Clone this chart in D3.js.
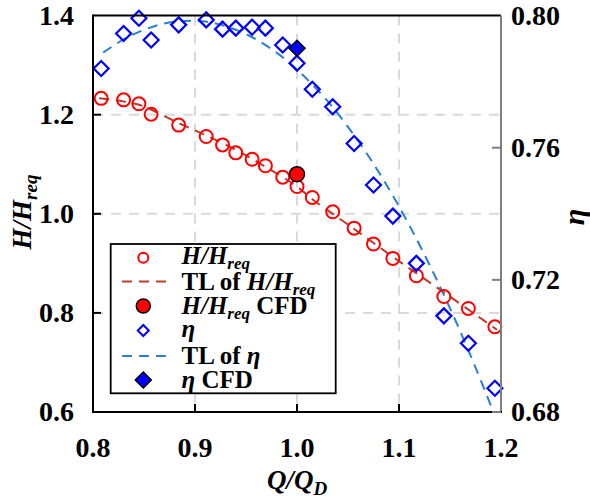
<!DOCTYPE html>
<html><head><meta charset="utf-8">
<script src="https://cdn.jsdelivr.net/npm/d3@7/dist/d3.min.js"></script>
<style>body{margin:0;background:#fff}svg{display:block}</style>
</head><body><svg id="c" width="590" height="498" font-family="'Liberation Serif', 'Times New Roman', serif" font-weight="bold"></svg>
<script>
// ---- data ----
const Q     = [0.808,0.830,0.845,0.857,0.884,0.911,0.927,0.940,0.956,0.969,0.986,1.000,1.015,1.035,1.056,1.075,1.094,1.117,1.144,1.168,1.194];
const H     = [1.233,1.230,1.222,1.201,1.179,1.156,1.139,1.123,1.110,1.097,1.074,1.055,1.033,1.004,0.971,0.939,0.910,0.875,0.833,0.809,0.772];
const ETA   = [0.7840,0.7946,0.7992,0.7926,0.7972,0.7987,0.7959,0.7962,0.7965,0.7962,0.7911,0.7856,0.7777,0.7724,0.7613,0.7487,0.7393,0.7250,0.7091,0.7008,0.6872];
const cfdQ = 1.000, cfdH = 1.080, cfdEta = 0.7901;
const tlHQ  = [0.806,0.845,0.884,0.910,0.940,0.969,0.998,1.016,1.055,1.094,1.143,1.196];
const tlH   = [1.233,1.220,1.183,1.159,1.129,1.095,1.058,1.028,0.971,0.913,0.843,0.766];
const tlEQ  = [0.81,0.83,0.85,0.87,0.89,0.91,0.93,0.95,0.97,0.99,1.01,1.03,1.05,1.07,1.09,1.11,1.13,1.15,1.17,1.19,1.20];
const tlE   = [0.7888,0.7928,0.7957,0.7976,0.7984,0.7982,0.7968,0.7944,0.7909,0.7864,0.7807,0.7741,0.7663,0.7575,0.7476,0.7366,0.7245,0.7114,0.6972,0.6820,0.6740];
const xTicks = [0.8,0.9,1.0,1.1,1.2];
const yTicks = [0.6,0.8,1.0,1.2,1.4];
const y2Ticks = [0.68,0.72,0.76,0.80];

const svg = d3.select("#c");
const L=93,R=501,T=15.6,B=412;
const x = d3.scaleLinear().domain([0.8,1.2]).range([L,R]);
const y = d3.scaleLinear().domain([0.6,1.4]).range([B,T]);
const y2 = d3.scaleLinear().domain([0.68,0.80]).range([B,T]);

svg.append("defs").append("clipPath").attr("id","clip").append("rect").attr("x",L).attr("y",T).attr("width",R-L).attr("height",B-T);

// grid
const grid = svg.append("g").attr("stroke","#d9d9d9").attr("stroke-width",2).attr("stroke-dasharray","10,8");
grid.selectAll(".gx").data(xTicks.slice(1,-1)).join("line").attr("x1",d=>x(d)).attr("x2",d=>x(d)).attr("y1",T).attr("y2",B);
grid.selectAll(".gy").data(yTicks.slice(1,-1)).join("line").attr("y1",d=>y(d)).attr("y2",d=>y(d)).attr("x1",L).attr("x2",R);

// trend lines
const pl = svg.append("g").attr("clip-path","url(#clip)");
pl.append("path").datum(d3.range(tlHQ.length)).attr("fill","none").attr("stroke","#c0392b").attr("stroke-width",2).attr("stroke-dasharray","10,7")
  .attr("d",d3.line().curve(d3.curveCatmullRom).x(i=>x(tlHQ[i])).y(i=>y(tlH[i])));
pl.append("path").datum(d3.range(tlEQ.length)).attr("fill","none").attr("stroke","#2a7fd4").attr("stroke-width",2).attr("stroke-dasharray","10,7")
  .attr("d",d3.line().curve(d3.curveCatmullRom).x(i=>x(tlEQ[i])).y(i=>y2(tlE[i])));

// markers
const diamond = s => `M0,${-s}L${s},0L0,${s}L${-s},0Z`;
svg.append("g").selectAll("circle").data(d3.range(Q.length)).join("circle")
  .attr("cx",i=>x(Q[i])).attr("cy",i=>y(H[i])).attr("r",6.5).attr("fill","none").attr("stroke","#ff0000").attr("stroke-width",2);
svg.append("g").selectAll("path").data(d3.range(Q.length)).join("path")
  .attr("transform",i=>`translate(${x(Q[i])},${y2(ETA[i])})`).attr("d",diamond(7.5)).attr("fill","none").attr("stroke","#0000ff").attr("stroke-width",2.2);
svg.append("circle").attr("cx",x(cfdQ)).attr("cy",y(cfdH)).attr("r",7.5).attr("fill","#ff0000").attr("stroke","#000").attr("stroke-width",1.5);
svg.append("path").attr("transform",`translate(${x(cfdQ)},${y2(cfdEta)})`).attr("d",diamond(8)).attr("fill","#0000ff").attr("stroke","#000").attr("stroke-width",1.5);

// axes frame
svg.append("line").attr("x1",L).attr("x2",R).attr("y1",T).attr("y2",T).attr("stroke","#000").attr("stroke-width",2);
svg.append("line").attr("x1",R).attr("x2",R).attr("y1",T).attr("y2",B).attr("stroke","#7f7f7f").attr("stroke-width",2);
svg.append("line").attr("x1",L).attr("x2",L).attr("y1",T-1).attr("y2",B+1).attr("stroke","#000").attr("stroke-width",2);
svg.append("line").attr("x1",L-1).attr("x2",R+1).attr("y1",B).attr("y2",B).attr("stroke","#000").attr("stroke-width",2);

const tk = svg.append("g").attr("stroke","#000").attr("stroke-width",2);
tk.selectAll(".tx").data(xTicks.slice(1,-1)).join("line").attr("x1",d=>x(d)).attr("x2",d=>x(d)).attr("y1",B).attr("y2",B-8);
tk.selectAll(".ty").data(yTicks.slice(1,-1)).join("line").attr("x1",L).attr("x2",L+8).attr("y1",d=>y(d)).attr("y2",d=>y(d));
svg.append("g").attr("stroke","#7f7f7f").attr("stroke-width",2).selectAll("line").data(y2Ticks.slice(0,-1)).join("line")
  .attr("x1",R-9).attr("x2",R).attr("y1",d=>y2(d)).attr("y2",d=>y2(d));

// tick labels
const fs = 28;
svg.append("g").selectAll("text").data(xTicks).join("text").attr("x",d=>x(d)).attr("y",457).attr("text-anchor","middle").attr("font-size",fs).text(d=>d.toFixed(1));
svg.append("g").selectAll("text").data(yTicks).join("text").attr("x",74).attr("y",d=>y(d)+9).attr("text-anchor","end").attr("font-size",fs).text(d=>d.toFixed(1));
svg.append("g").selectAll("text").data(y2Ticks).join("text").attr("x",511).attr("y",d=>y2(d)+9).attr("text-anchor","start").attr("font-size",fs).text(d=>d.toFixed(2));

// axis titles
const xt = svg.append("text").attr("x",297).attr("y",489).attr("text-anchor","middle").attr("font-size",27).attr("font-style","italic");
xt.append("tspan").text("Q/Q");
xt.append("tspan").attr("font-size",19).attr("dy",6).text("D");
const yt = svg.append("text").attr("transform","translate(31,212) rotate(-90)").attr("text-anchor","middle").attr("font-size",27).attr("font-style","italic");
yt.append("tspan").text("H/H");
yt.append("tspan").attr("font-size",19).attr("dy",6).text("req");
svg.append("text").attr("transform","translate(584,217) rotate(-90)").attr("text-anchor","middle").attr("font-size",30).attr("font-style","italic").text("η");

// legend
const lg = svg.append("g");
lg.append("rect").attr("x",110.7).attr("y",244).attr("width",225).attr("height",149.3).attr("fill","#fff").attr("stroke","#000").attr("stroke-width",1.8);
const rows = [257.7,281.5,306,330.5,356,380];
const mx = 143.3, tx = 181.5, lfs = 25, sfs = 17;
function hreq(t){ t.append("tspan").attr("font-style","italic").text("H/H"); t.append("tspan").attr("font-style","italic").attr("font-size",sfs).attr("dy",5).text("req"); }
lg.append("circle").attr("cx",mx).attr("cy",rows[0]).attr("r",5).attr("fill","none").attr("stroke","#ff0000").attr("stroke-width",2);
lg.append("line").attr("x1",122).attr("x2",167).attr("y1",rows[1]).attr("y2",rows[1]).attr("stroke","#c0392b").attr("stroke-width",2).attr("stroke-dasharray","10,7");
lg.append("circle").attr("cx",mx).attr("cy",rows[2]).attr("r",7).attr("fill","#ff0000").attr("stroke","#000").attr("stroke-width",1.5);
lg.append("path").attr("transform",`translate(${mx},${rows[3]})`).attr("d",diamond(5.5)).attr("fill","none").attr("stroke","#0000ff").attr("stroke-width",2);
lg.append("line").attr("x1",122).attr("x2",167).attr("y1",rows[4]).attr("y2",rows[4]).attr("stroke","#2a7fd4").attr("stroke-width",2).attr("stroke-dasharray","10,7");
lg.append("path").attr("transform",`translate(${mx},${rows[5]})`).attr("d",diamond(8)).attr("fill","#0000ff").attr("stroke","#000").attr("stroke-width",1.5);
let t;
t = lg.append("text").attr("x",tx).attr("y",rows[0]+6).attr("font-size",lfs); hreq(t);
t = lg.append("text").attr("x",tx).attr("y",rows[1]+8).attr("font-size",lfs); t.append("tspan").text("TL of "); hreq(t);
t = lg.append("text").attr("x",tx).attr("y",rows[2]+8).attr("font-size",lfs); hreq(t); t.append("tspan").attr("dy",-5).text(" CFD");
t = lg.append("text").attr("x",tx).attr("y",rows[3]+6).attr("font-size",lfs).attr("font-style","italic").text("η");
t = lg.append("text").attr("x",tx).attr("y",rows[4]+8).attr("font-size",lfs); t.append("tspan").text("TL of "); t.append("tspan").attr("font-style","italic").text("η");
t = lg.append("text").attr("x",tx).attr("y",rows[5]+8).attr("font-size",lfs); t.append("tspan").attr("font-style","italic").text("η"); t.append("tspan").text(" CFD");
</script></body></html>
